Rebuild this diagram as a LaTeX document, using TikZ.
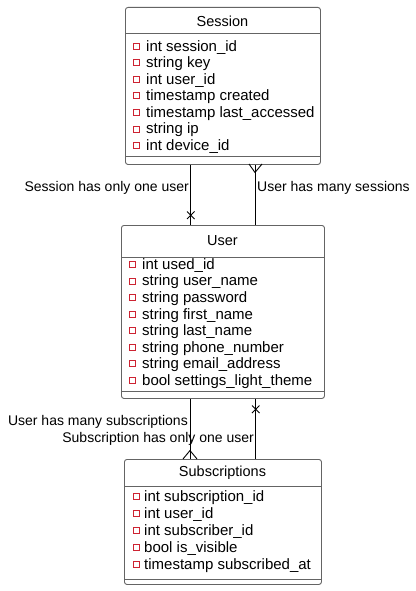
\documentclass[tikz,border=0pt]{standalone}
\usepackage{fontspec}
\setmainfont{Liberation Sans}
\definecolor{boxgray}{RGB}{100,100,100}
\definecolor{keyred}{RGB}{205,35,50}
\begin{document}
\begin{tikzpicture}[x=1pt,y=-1pt,
  entity/.style={draw=boxgray,line width=0.9pt,rounded corners=2.5pt,fill=white,anchor=north west,inner sep=0pt},
  title/.style={font=\fontsize{14.5}{17}\selectfont,inner sep=0pt},
  attr/.style={font=\fontsize{15}{17}\selectfont,inner sep=0pt,anchor=west},
  keybox/.style={draw=keyred,line width=1pt},
  sep/.style={draw=boxgray,line width=0.9pt},
  rel/.style={draw=black,line width=0.9pt},
  lab/.style={font=\fontsize{14}{16}\selectfont,inner sep=0pt}]
\useasboundingbox (0,0) rectangle (415,591);
\fill[white] (0,0) rectangle (415,591);

% Session
\node[entity,minimum width=195pt,minimum height=157pt] (session) at (125,7) {};
\node[title] (sessiont) at (222.5,21) {Session};
\draw[sep] (125,33) -- (320,33);
\draw[sep] (125,156) -- (320,156);
\foreach \t [count=\i from 0] in {int session\_id,string key,int user\_id,timestamp created,timestamp last\_accessed,string ip,int device\_id}{
  \draw[keybox] (133,{46.5+16.5*\i-3}) rectangle (139,{46.5+16.5*\i+3});
  \node[attr] (s\i) at (146,{47.5+16.5*\i}) {\t};
}

% User
\node[entity,minimum width=203pt,minimum height=173pt] (user) at (121,225) {};
\node[title] (usert) at (222.5,241) {User};
\draw[sep] (121,257) -- (324,257);
\draw[sep] (121,391) -- (324,391);
\foreach \t [count=\i from 0] in {int used\_id,string user\_name,string password,string first\_name,string last\_name,string phone\_number,string email\_address,bool settings\_light\_theme}{
  \draw[keybox] (129,{264.5+16.57*\i-3}) rectangle (135,{264.5+16.57*\i+3});
  \node[attr] (u\i) at (142,{265.5+16.57*\i}) {\t};
}

% Subscriptions
\node[entity,minimum width=197pt,minimum height=125pt] (subs) at (124,459) {};
\node[title] (subst) at (222.5,473) {Subscriptions};
\draw[sep] (124,486) -- (321,486);
\draw[sep] (124,579) -- (321,579);
\foreach \t [count=\i from 0] in {int subscription\_id,int user\_id,int subscriber\_id,bool is\_visible,timestamp subscribed\_at}{
  \draw[keybox] (133,{496.5+17*\i-3}) rectangle (139,{496.5+17*\i+3});
  \node[attr] (b\i) at (144,{497.5+17*\i}) {\t};
}

% Relations Session - User
\coordinate (r1a) at (190,0 |- session.south);
\coordinate (r1b) at (190,0 |- user.north);
\draw[rel] (r1a) -- (r1b);
\draw[rel] (187,211.5) -- (194.5,219) (187,219) -- (194.5,211.5);
\coordinate (r2a) at (255,0 |- session.south);
\coordinate (r2b) at (255,0 |- user.north);
\draw[rel] (r2a) -- (r2b);
\draw[rel] (249,164) -- (255,172.5) -- (262,164);
\node[lab,anchor=east] (l1) at (189,188) {Session has only one user};
\node[lab,anchor=west] (l2) at (257,188) {User has many sessions};

% Relations User - Subscriptions
\coordinate (r3a) at (190,0 |- user.south);
\coordinate (r3b) at (190,0 |- subs.north);
\draw[rel] (r3a) -- (r3b);
\draw[rel] (183,459) -- (190,450.5) -- (197,459);
\coordinate (r4a) at (255.5,0 |- user.south);
\coordinate (r4b) at (255.5,0 |- subs.north);
\draw[rel] (r4a) -- (r4b);
\draw[rel] (252,405.5) -- (259.5,413) (252,413) -- (259.5,405.5);
\node[lab,anchor=east] (l3) at (188,422) {User has many subscriptions};
\node[lab,anchor=east] (l4) at (254,439) {Subscription has only one user};
\end{tikzpicture}
\end{document}
